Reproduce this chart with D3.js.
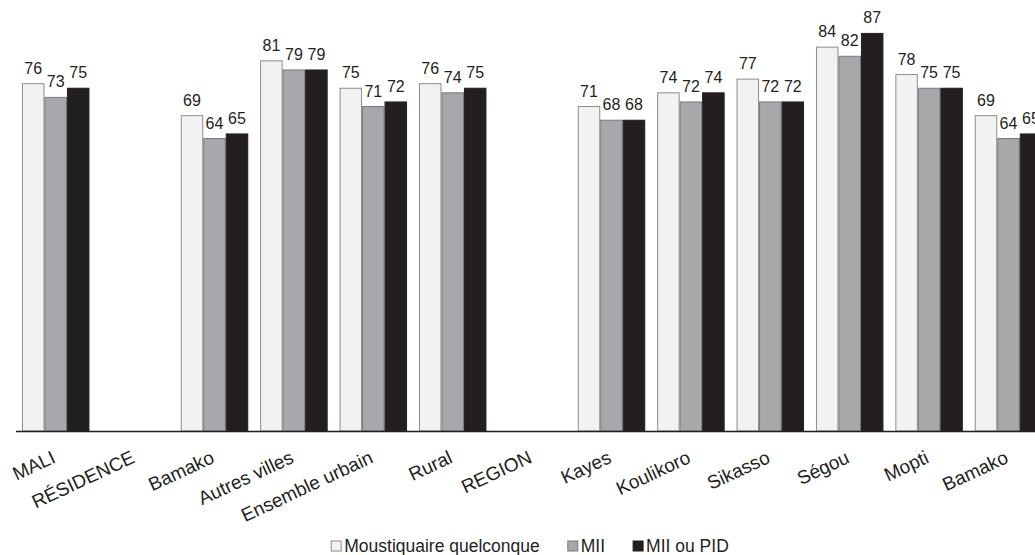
<!DOCTYPE html>
<html>
<head>
<meta charset="utf-8">
<script src="https://cdn.jsdelivr.net/npm/d3@7"></script>
<style>
  html, body { margin: 0; padding: 0; background: #fff; }
  svg { display: block; font-family: "Liberation Sans", Arial, sans-serif; }
</style>
</head>
<body>
<svg id="chart" width="1035" height="555"></svg>
<script>
const categories = ["MALI", "RÉSIDENCE", "Bamako", "Autres villes", "Ensemble urbain", "Rural", "REGION", "Kayes", "Koulikoro", "Sikasso", "Ségou", "Mopti", "Bamako"];
const seriesNames = ["Moustiquaire quelconque", "MII", "MII ou PID"];
const moustiquaire = [76, null, 69, 81, 75, 76, null, 71, 74, 77, 84, 78, 69];
const mii          = [73, null, 64, 79, 71, 74, null, 68, 72, 72, 82, 75, 64];
const miiOuPid     = [75, null, 65, 79, 72, 75, null, 68, 74, 72, 87, 75, 65];
const seriesValues = [moustiquaire, mii, miiOuPid];
const fills   = ["#f1f2f1", "#a7a8ab", "#231f20"];
const strokes = ["#8c8c8c", "#7a7a7c", "#231f20"];

const svg = d3.select("#chart");
const ink = "#231f20";

const x = d3.scaleBand()
  .domain(d3.range(categories.length))
  .range([16, 1048.2])
  .paddingInner(0.15)
  .paddingOuter(0.075);
const xs = d3.scaleBand().domain(d3.range(seriesNames.length)).range([0, x.bandwidth()]);
const y = d3.scaleLinear().domain([0, 100]).range([431, 431 - 457]);

// bars
const groups = svg.append("g").selectAll("g")
  .data(categories.map((c, i) => ({ c, i })))
  .join("g")
  .attr("transform", d => `translate(${x(d.i)},0)`);

groups.each(function (d) {
  const g = d3.select(this);
  seriesValues.forEach((vals, s) => {
    const v = vals[d.i];
    if (v == null) return;
    g.append("rect")
      .attr("x", xs(s) + 0.5)
      .attr("y", y(v))
      .attr("width", xs.bandwidth() - 1)
      .attr("height", y(0) - y(v))
      .attr("fill", fills[s])
      .attr("stroke", strokes[s])
      .attr("stroke-width", 1);
    g.append("text")
      .attr("x", xs(s) + xs.bandwidth() / 2)
      .attr("y", y(v) - 10)
      .attr("text-anchor", "middle")
      .attr("font-size", 16)
      .attr("fill", ink)
      .text(v);
  });
});

// axis
const axis = d3.axisBottom(x).tickSize(0).tickFormat(i => categories[i]);
const ax = svg.append("g").attr("transform", "translate(0,431)").call(axis);
ax.select(".domain").attr("d", "M16,0.5H1035").attr("stroke", ink).attr("stroke-width", 1.4);
ax.selectAll(".tick text")
  .attr("font-size", 19)
  .attr("font-family", "'Liberation Sans', Arial, sans-serif")
  .attr("fill", ink)
  .attr("text-anchor", "end")
  .attr("dy", 0)
  .attr("y", 0)
  .attr("transform", "translate(1,31) rotate(-25)");

// legend
const legend = svg.append("g").attr("transform", "translate(0,552)");
const items = legend.selectAll("g").data(seriesNames).join("g");
items.append("rect")
  .attr("width", 10).attr("height", 10).attr("y", -11)
  .attr("fill", (d, i) => fills[i])
  .attr("stroke", (d, i) => strokes[i]);
items.append("text")
  .attr("x", 13)
  .attr("font-size", 17.5)
  .attr("fill", ink)
  .text(d => d);
let cx = 0;
const pos = [];
items.each(function () {
  const w = d3.select(this).select("text").node().getComputedTextLength();
  pos.push(cx);
  cx += 13 + w + 28;
});
const total = cx - 28;
const start = 530 - total / 2;
items.attr("transform", (d, i) => `translate(${start + pos[i]},0)`);
</script>
</body>
</html>
